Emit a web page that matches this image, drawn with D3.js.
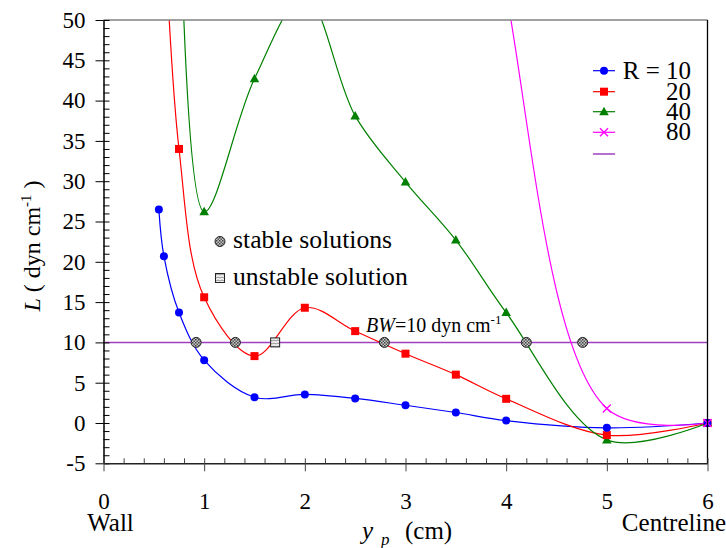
<!DOCTYPE html>
<html>
<head>
<meta charset="utf-8">
<script src="https://cdn.jsdelivr.net/npm/d3@7"></script>
<style>
  body { margin: 0; background: #fff; }
  svg { font-family: "Liberation Serif", "Times New Roman", serif; }
</style>
</head>
<body>
<div id="chart"></div>
<script>
// lift force L (dyn/cm) against particle position y_p (cm), one list per R
// (the first values of R=20, 40 and 80 lie above the top of the plot)
var r10X = [0.55, 0.6, 0.75, 1.0, 1.5, 2.0, 2.5, 3.0, 3.5, 4.0, 5.0, 6.0];
var r10L = [26.5, 20.7, 13.7, 7.8, 3.2, 3.55, 3.05, 2.2, 1.3, 0.3, -0.6, 0.0];

var r20X = [0.6, 0.75, 1.0, 1.5, 2.0, 2.5, 3.0, 3.5, 4.0, 5.0, 6.0];
var r20L = [63, 34.0, 15.6, 8.3, 14.3, 11.4, 8.6, 6.0, 3.0, -1.5, 0.0];

var r40X = [0.75, 1.0, 1.5, 2.0, 2.5, 3.0, 3.5, 4.0, 5.0, 6.0];
var r40L = [72, 26.2, 42.7, 53, 38.1, 29.9, 22.7, 13.7, -2.1, 0.0];

var r80X = [3.5, 4.0, 5.0, 6.0];
var r80L = [105, 53.5, 1.8, 0.0];

var seriesNames = ["R = 10", "20", "40", "80"];

// buoyancy-weight level and where the curves cross it
var bwLevel = 10;
var stableX = [0.92, 1.31, 2.79, 4.2, 4.76];
var unstableX = [1.705];

var xTicks = [0, 1, 2, 3, 4, 5, 6];
var yTicks = [-5, 0, 5, 10, 15, 20, 25, 30, 35, 40, 45, 50];

var width = 726, height = 548;
var margin = { top: 20, right: 18.5, bottom: 84.7, left: 103.5 };
var serif = "Liberation Serif, Times New Roman, serif";

var svg = d3.select("#chart").append("svg")
  .attr("width", width)
  .attr("height", height)
  .attr("font-family", serif);

var defs = svg.append("defs");

// hatched fill for the stable points
var pat1 = defs.append("pattern")
  .attr("id", "stablePat").attr("patternUnits", "userSpaceOnUse")
  .attr("width", 3).attr("height", 3);
pat1.append("rect").attr("width", 3).attr("height", 3).attr("fill", "#c8c8c8");
pat1.append("rect").attr("width", 1.5).attr("height", 1.5).attr("fill", "#404040");
pat1.append("rect").attr("x", 1.5).attr("y", 1.5).attr("width", 1.5).attr("height", 1.5).attr("fill", "#555");

// wavy fill for the unstable point
var pat2 = defs.append("pattern")
  .attr("id", "unstablePat").attr("patternUnits", "userSpaceOnUse")
  .attr("width", 4).attr("height", 3);
pat2.append("rect").attr("width", 4).attr("height", 3).attr("fill", "#f4f4f4");
pat2.append("path").attr("d", "M0,2 L2,1 L4,2").attr("fill", "none").attr("stroke", "#707070").attr("stroke-width", 0.8);

var x = d3.scaleLinear().domain([0, 6]).range([margin.left, width - margin.right]);
var y = d3.scaleLinear().domain([-5, 50]).range([height - margin.bottom, margin.top]);

defs.append("clipPath").attr("id", "plotClip")
  .append("rect")
  .attr("x", x(0)).attr("y", y(50))
  .attr("width", x(6) - x(0)).attr("height", y(-5) - y(50));

var series = [
  { xs: r10X, ys: r10L, color: "#0000ff", shape: "circle" },
  { xs: r20X, ys: r20L, color: "#ff0000", shape: "square" },
  { xs: r40X, ys: r40L, color: "#008000", shape: "triangle" },
  { xs: r80X, ys: r80L, color: "#ff00ff", shape: "cross" }
];

function drawMarker(g, shape, color, px, py) {
  if (shape === "circle") {
    g.append("circle").attr("cx", px).attr("cy", py).attr("r", 4).attr("fill", color);
  } else if (shape === "square") {
    g.append("rect").attr("x", px - 4).attr("y", py - 4).attr("width", 8).attr("height", 8).attr("fill", color);
  } else if (shape === "triangle") {
    g.append("path").attr("d", "M" + px + "," + (py - 5) + "L" + (px + 4.8) + "," + (py + 3.5) + "L" + (px - 4.8) + "," + (py + 3.5) + "Z")
      .attr("fill", color);
  } else {
    g.append("path").attr("d", "M" + (px - 4) + "," + (py - 4) + "L" + (px + 4) + "," + (py + 4) +
      "M" + (px + 4) + "," + (py - 4) + "L" + (px - 4) + "," + (py + 4))
      .attr("stroke", color).attr("stroke-width", 1.3).attr("fill", "none");
  }
}

// BW line
svg.append("line")
  .attr("x1", x(0)).attr("x2", x(6))
  .attr("y1", y(bwLevel)).attr("y2", y(bwLevel))
  .attr("stroke", "#a040c0").attr("stroke-width", 1.5);

// curves
var line = d3.line()
  .x(function(d) { return x(d[0]); })
  .y(function(d) { return y(d[1]); })
  .curve(d3.curveCatmullRom.alpha(0.5));

var curves = svg.append("g").attr("clip-path", "url(#plotClip)");
series.forEach(function(s) {
  var pts = s.xs.map(function(v, i) { return [v, s.ys[i]]; });
  curves.append("path")
    .datum(pts)
    .attr("d", line)
    .attr("fill", "none")
    .attr("stroke", s.color)
    .attr("stroke-width", 1.2);
});

// markers (only the ones inside the plot)
var marks = svg.append("g");
[2, 1, 0, 3].forEach(function(k) {
  var s = series[k];
  s.xs.forEach(function(v, i) {
    if (s.ys[i] <= 50) drawMarker(marks, s.shape, s.color, x(v), y(s.ys[i]));
  });
});

// stable / unstable points on the BW line
svg.append("g").selectAll("circle")
  .data(stableX)
  .enter().append("circle")
  .attr("cx", function(d) { return x(d); })
  .attr("cy", y(bwLevel))
  .attr("r", 5)
  .attr("fill", "url(#stablePat)")
  .attr("stroke", "#222").attr("stroke-width", 1);

svg.append("g").selectAll("rect")
  .data(unstableX)
  .enter().append("rect")
  .attr("x", function(d) { return x(d) - 4.5; })
  .attr("y", y(bwLevel) - 4.5)
  .attr("width", 9).attr("height", 9)
  .attr("fill", "url(#unstablePat)")
  .attr("stroke", "#222").attr("stroke-width", 1);

// frame: top and right
svg.append("line").attr("x1", x(0)).attr("x2", x(6)).attr("y1", y(50)).attr("y2", y(50))
  .attr("stroke", "#808080").attr("stroke-width", 1.5);
svg.append("line").attr("x1", x(6)).attr("x2", x(6)).attr("y1", y(50)).attr("y2", y(-5))
  .attr("stroke", "#000").attr("stroke-width", 1.3);

var plainNum = function(d) { return String(d); };

// y axis
var yAxis = svg.append("g")
  .attr("transform", "translate(" + x(0) + ",0)")
  .call(d3.axisLeft(y).tickValues(yTicks).tickFormat(plainNum).tickSizeInner(8).tickSizeOuter(0).tickPadding(10));
yAxis.attr("font-family", serif);
yAxis.select(".domain").attr("stroke-width", 1.5);
yAxis.selectAll("text").attr("font-size", 23).attr("fill", "#000");

svg.append("g")
  .attr("transform", "translate(" + x(0) + ",0)")
  .call(d3.axisRight(y).tickValues(d3.range(-5, 51, 1)).tickSize(6).tickFormat(""))
  .call(function(g) { g.select(".domain").remove(); });

// x axis
var xAxis = svg.append("g")
  .attr("transform", "translate(0," + y(-5) + ")")
  .call(d3.axisBottom(x).tickValues(xTicks).tickFormat(plainNum).tickSizeInner(8).tickSizeOuter(0).tickPadding(21));
xAxis.attr("font-family", serif);
xAxis.select(".domain").attr("stroke", "#222").attr("stroke-width", 1.5);
xAxis.selectAll(".tick line").attr("stroke", "#444");
xAxis.selectAll("text").attr("font-size", 23).attr("fill", "#000");

svg.append("g")
  .attr("transform", "translate(0," + y(-5) + ")")
  .call(d3.axisTop(x).tickValues(d3.range(0, 6.01, 0.2)).tickSize(5).tickFormat(""))
  .call(function(g) {
    g.select(".domain").remove();
    g.selectAll("line").attr("stroke", "#444");
  });

// axis titles
var yTitle = svg.append("text")
  .attr("transform", "translate(40,246) rotate(-90)")
  .attr("text-anchor", "middle")
  .attr("font-size", 24);
yTitle.append("tspan").attr("font-style", "italic").text("L");
yTitle.append("tspan").text(" ( dyn cm");
yTitle.append("tspan").attr("font-size", 15).attr("dy", -9).text("-1");
yTitle.append("tspan").attr("dy", 9).text(" )");

var xTitle = svg.append("text")
  .attr("x", 362).attr("y", 539)
  .attr("font-size", 25);
xTitle.append("tspan").attr("font-style", "italic").text("y");
xTitle.append("tspan").attr("font-style", "italic").attr("font-size", 17).attr("x", 381).attr("dy", 6).text("p");
xTitle.append("tspan").attr("x", 405).attr("dy", -6).text("(cm)");

svg.append("text")
  .attr("x", x(0) + 7).attr("y", 531)
  .attr("text-anchor", "middle")
  .attr("font-size", 25)
  .text("Wall");

svg.append("text")
  .attr("x", 726).attr("y", 531)
  .attr("text-anchor", "end")
  .attr("font-size", 25)
  .text("Centreline");

// BW label
var bw = svg.append("text")
  .attr("x", 366).attr("y", 332)
  .attr("font-size", 20);
bw.append("tspan").attr("font-style", "italic").text("BW");
bw.append("tspan").text("=10 dyn cm");
bw.append("tspan").attr("font-size", 13).attr("dy", -8).text("-1");

// stable / unstable legend
svg.append("circle").attr("cx", 220).attr("cy", 241.5).attr("r", 5)
  .attr("fill", "url(#stablePat)").attr("stroke", "#222");
svg.append("text").attr("x", 233).attr("y", 248).attr("font-size", 25.7).text("stable solutions");
svg.append("rect").attr("x", 215.5).attr("y", 273.5).attr("width", 9).attr("height", 9)
  .attr("fill", "url(#unstablePat)").attr("stroke", "#222");
svg.append("text").attr("x", 233).attr("y", 285).attr("font-size", 25.7).text("unstable solution");

// series legend
var legY = [70.7, 91.7, 111.7, 132.3];
series.forEach(function(s, i) {
  svg.append("line").attr("x1", 593).attr("x2", 615).attr("y1", legY[i]).attr("y2", legY[i])
    .attr("stroke", s.color).attr("stroke-width", 1.2);
  drawMarker(svg, s.shape, s.color, 604, legY[i]);
  svg.append("text").attr("x", 691).attr("y", legY[i] + 8)
    .attr("text-anchor", "end").attr("font-size", 25).text(seriesNames[i]);
});
svg.append("line").attr("x1", 593).attr("x2", 615).attr("y1", 154).attr("y2", 154)
  .attr("stroke", "#a040c0").attr("stroke-width", 1.5);
</script>
</body>
</html>
